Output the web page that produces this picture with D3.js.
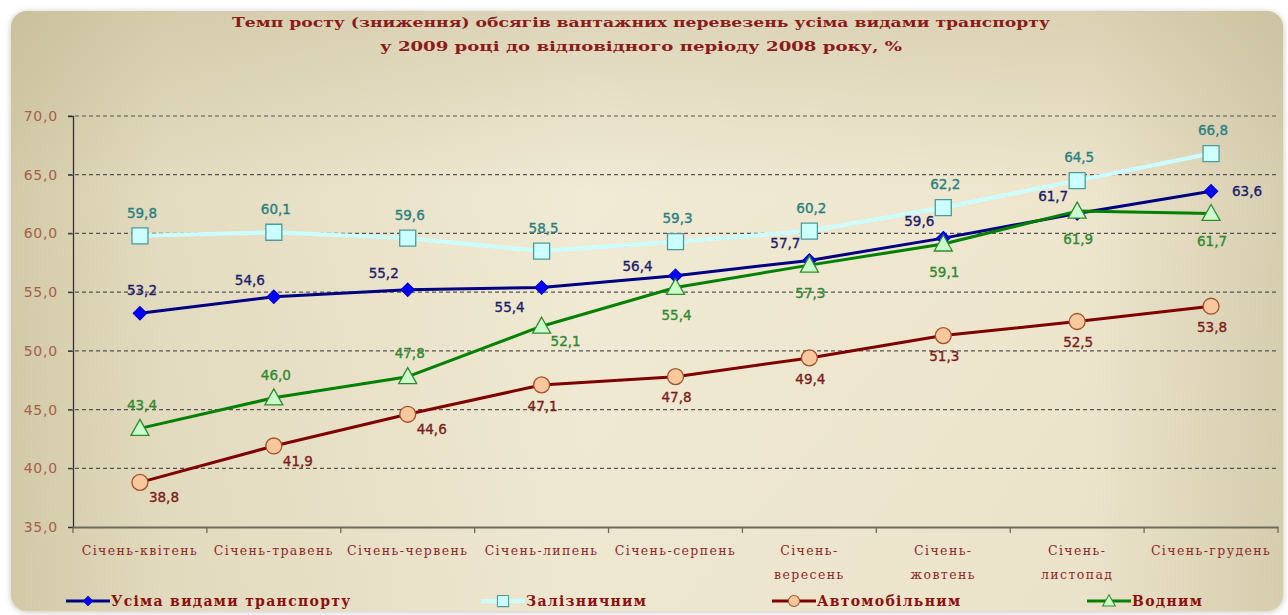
<!DOCTYPE html>
<html>
<head>
<meta charset="utf-8">
<script src="https://cdn.jsdelivr.net/npm/d3@7"></script>
<style>
  body { margin: 0; background: #fff; }
  svg { display: block; }
</style>
</head>
<body>
<svg id="chart" width="1288" height="615"></svg>
<script>
// data
let categories = [
  "Січень-квітень", "Січень-травень", "Січень-червень", "Січень-липень",
  "Січень-серпень", "Січень-\nвересень", "Січень-\nжовтень", "Січень-\nлистопад",
  "Січень-грудень"
];
let allValues = [53.2, 54.6, 55.2, 55.4, 56.4, 57.7, 59.6, 61.7, 63.6];
let railValues = [59.8, 60.1, 59.6, 58.5, 59.3, 60.2, 62.2, 64.5, 66.8];
let autoValues = [38.8, 41.9, 44.6, 47.1, 47.8, 49.4, 51.3, 52.5, 53.8];
let waterValues = [43.4, 46.0, 47.8, 52.1, 55.4, 57.3, 59.1, 61.9, 61.7];
let yTicks = [35, 40, 45, 50, 55, 60, 65, 70];
let seriesNames = ["Усіма видами транспорту", "Залізничним", "Автомобільним", "Водним"];
let titleLines = [
  "Темп росту (зниження) обсягів вантажних перевезень усіма видами транспорту",
  "у 2009 році до відповідного періоду 2008 року, %"
];

// where each value label sits around its marker
let allLabelPos = ["t", "tl", "tl", "bl", "l", "tl", "tl", "tl", "r"];
let railLabelPos = ["t", "t", "t", "t", "t", "t", "t", "t", "t"];
let autoLabelPos = ["br", "br", "br", "b", "b", "b", "b", "b", "b"];
let waterLabelPos = ["t", "t", "t", "br", "bb", "bb", "bb", "bb", "bb"];

let offsets = {
  t: [2, -23], tl: [-24, -17], l: [-38, -9], bl: [-32, 20],
  b: [1, 21], bb: [1, 28], br: [24, 15], r: [36, 0]
};

let series = [
  { name: seriesNames[0], values: allValues, pos: allLabelPos, line: "#000080", width: 3,
    marker: "diamond", fill: "#0000ff", stroke: "#0000cc", text: "#1c1c6a" },
  { name: seriesNames[1], values: railValues, pos: railLabelPos, line: "#ccffff", width: 4,
    marker: "square", fill: "#ccffff", stroke: "#4d9a9a", text: "#2a8080" },
  { name: seriesNames[2], values: autoValues, pos: autoLabelPos, line: "#7f0000", width: 3,
    marker: "circle", fill: "#f8c89c", stroke: "#a0522d", text: "#7a1c1c" },
  { name: seriesNames[3], values: waterValues, pos: waterLabelPos, line: "#008000", width: 3,
    marker: "triangle", fill: "#ccffcc", stroke: "#2e8b2e", text: "#2f8a2f" }
];

let svg = d3.select("#chart");
let margin = { left: 73, right: 1278, top: 116, bottom: 527 };

let defs = svg.append("defs");
let grad = defs.append("linearGradient").attr("id", "bg").attr("x1", "0").attr("x2", "1");
grad.append("stop").attr("offset", "0%").attr("stop-color", "#d3caa8");
grad.append("stop").attr("offset", "12%").attr("stop-color", "#e4dcc0");
grad.append("stop").attr("offset", "45%").attr("stop-color", "#f1ead4");
grad.append("stop").attr("offset", "85%").attr("stop-color", "#ede5cc");
grad.append("stop").attr("offset", "100%").attr("stop-color", "#d7ceb0");
let vgrad = defs.append("linearGradient").attr("id", "bgv").attr("x1", "0").attr("x2", "0").attr("y1", "0").attr("y2", "1");
vgrad.append("stop").attr("offset", "0%").attr("stop-color", "#b8ad86").attr("stop-opacity", 0.35);
vgrad.append("stop").attr("offset", "30%").attr("stop-color", "#b8ad86").attr("stop-opacity", 0);
vgrad.append("stop").attr("offset", "100%").attr("stop-color", "#b8ad86").attr("stop-opacity", 0.05);
let shadow = defs.append("filter").attr("id", "shadow").attr("x", "-5%").attr("y", "-5%").attr("width", "110%").attr("height", "110%");
shadow.append("feDropShadow").attr("dx", 0).attr("dy", 1).attr("stdDeviation", 3)
  .attr("flood-color", "#8a8470").attr("flood-opacity", 0.5);

svg.append("rect").attr("x", 11).attr("y", 11).attr("width", 1272).attr("height", 600)
  .attr("rx", 16).attr("fill", "url(#bg)").attr("filter", "url(#shadow)");
svg.append("rect").attr("x", 11).attr("y", 11).attr("width", 1272).attr("height", 600)
  .attr("rx", 16).attr("fill", "url(#bgv)");

// title
svg.selectAll(".title").data(titleLines).enter().append("text")
  .attr("class", "title")
  .attr("x", 641)
  .attr("y", (d, i) => 27 + i * 24)
  .attr("text-anchor", "middle")
  .attr("textLength", (d, i) => i === 0 ? 818 : 522)
  .attr("lengthAdjust", "spacingAndGlyphs")
  .style("font-family", "'DejaVu Serif', serif")
  .style("font-weight", "bold")
  .style("font-size", "13px")
  .attr("fill", "#8b1a1a")
  .text((d) => d);

let x = d3.scaleBand().domain(categories).range([margin.left, margin.right]);
let y = d3.scaleLinear().domain([35, 70]).range([margin.bottom, margin.top]);
let cx = (i) => x(categories[i]) + x.bandwidth() / 2;

// grid
svg.append("g").selectAll("line").data(yTicks.filter((t) => t > 35)).enter().append("line")
  .attr("x1", margin.left - 5).attr("x2", margin.right)
  .attr("y1", (d) => y(d)).attr("y2", (d) => y(d))
  .attr("stroke", "#555").attr("stroke-width", 1.2).attr("stroke-dasharray", "4,3");

// y axis
let yAxis = svg.append("g").attr("transform", "translate(" + margin.left + ",0)")
  .call(d3.axisLeft(y).tickValues(yTicks).tickSize(5).tickFormat((d) => d3.format(".1f")(d).replace(".", ",")));
yAxis.select(".domain").attr("stroke", "#333").attr("stroke-width", 1.3);
yAxis.selectAll(".tick line").attr("stroke", "#333");
yAxis.selectAll(".tick text")
  .attr("x", -15)
  .style("font-family", "'DejaVu Sans', Verdana, sans-serif")
  .style("font-size", "14px")
  .style("letter-spacing", "0.8px")
  .attr("fill", "#a4604a");

// x axis
let xAxis = svg.append("g").attr("transform", "translate(0," + margin.bottom + ")")
  .call(d3.axisBottom(x).tickSize(0).tickFormat(""));
xAxis.select(".domain").attr("stroke", "#6e6a5e").attr("stroke-width", 2.2);
svg.append("g").selectAll("line").data(d3.range(categories.length + 1)).enter().append("line")
  .attr("x1", (i) => margin.left + i * x.bandwidth())
  .attr("x2", (i) => margin.left + i * x.bandwidth())
  .attr("y1", margin.bottom).attr("y2", margin.bottom + 6)
  .attr("stroke", "#6e6a5e").attr("stroke-width", 1.3);

let xl = svg.append("g").selectAll("text").data(categories).enter().append("text")
  .attr("x", (d, i) => cx(i))
  .attr("y", 555)
  .attr("text-anchor", "middle")
  .style("font-family", "'DejaVu Serif', serif")
  .style("font-size", "12.5px")
  .style("letter-spacing", "1.4px")
  .attr("fill", "#8b2a2a");
xl.selectAll("tspan").data((d) => d.split("\n")).enter().append("tspan")
  .attr("x", function () { return d3.select(this.parentNode).attr("x"); })
  .attr("dy", (d, i) => i === 0 ? 0 : 24)
  .text((d) => d);

// markers
let markerPath = (type) => {
  if (type === "diamond") return d3.symbol().type(d3.symbolDiamond2).size(110)();
  if (type === "square") return "M-8,-8H8V8H-8Z";
  if (type === "circle") return d3.symbol().type(d3.symbolCircle).size(200)();
  return "M0,-9L9,7H-9Z";
};

let line = d3.line().x((d, i) => cx(i)).y((d) => y(d));

series.forEach((s) => {
  let g = svg.append("g");
  g.append("path").datum(s.values).attr("d", line)
    .attr("fill", "none").attr("stroke", s.line).attr("stroke-width", s.width)
    .attr("stroke-linejoin", "round");
  g.selectAll("path.m").data(s.values).enter().append("path")
    .attr("class", "m")
    .attr("transform", (d, i) => "translate(" + cx(i) + "," + y(d) + ")")
    .attr("d", markerPath(s.marker))
    .attr("fill", s.fill).attr("stroke", s.stroke).attr("stroke-width", 1.3);
});

// value labels
series.forEach((s) => {
  svg.append("g").selectAll("text").data(s.values).enter().append("text")
    .attr("x", (d, i) => cx(i) + offsets[s.pos[i]][0])
    .attr("y", (d, i) => y(d) + offsets[s.pos[i]][1])
    .attr("dy", "0.35em")
    .attr("text-anchor", "middle")
    .style("font-family", "'DejaVu Sans', Verdana, sans-serif")
    .style("font-size", "13.5px")
    .attr("fill", s.text)
    .attr("stroke", s.text).attr("stroke-width", 0.35)
    .text((d) => d3.format(".1f")(d).replace(".", ","));
});

// legend
let legendX = [66, 481, 772, 1087];
let legend = svg.append("g").selectAll("g").data(series).enter().append("g")
  .attr("transform", (d, i) => "translate(" + legendX[i] + ",601)");
legend.append("line").attr("x1", 0).attr("x2", 44).attr("y1", 0).attr("y2", 0)
  .attr("stroke", (d) => d.line).attr("stroke-width", (d) => d.width);
legend.append("path")
  .attr("transform", "translate(22,0) scale(0.7)")
  .attr("d", (d) => markerPath(d.marker))
  .attr("fill", (d) => d.fill).attr("stroke", (d) => d.stroke).attr("stroke-width", 1.5);
legend.append("text")
  .attr("x", 45).attr("y", 0).attr("dy", "0.35em")
  .style("font-family", "'DejaVu Serif', serif")
  .style("font-weight", "bold")
  .style("font-size", "14px")
  .style("letter-spacing", "1.3px")
  .attr("fill", "#8b1010")
  .text((d) => d.name);
</script>
</body>
</html>
